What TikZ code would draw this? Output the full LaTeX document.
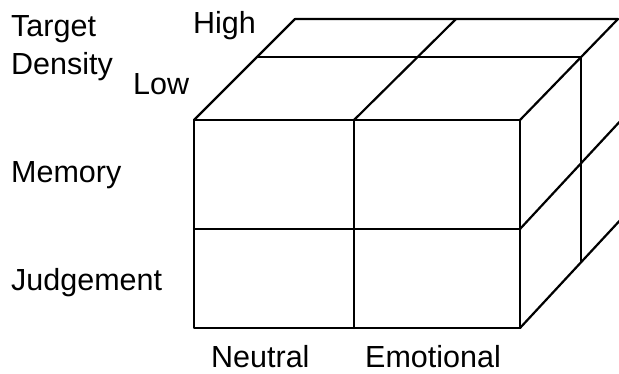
\documentclass[tikz,border=0pt]{standalone}
\usepackage{fontspec}
\setmainfont{Liberation Sans}
\usetikzlibrary{positioning,calc}

\begin{document}
\begin{tikzpicture}[
  x=1bp, y=-1bp,
  edge/.style={line width=2.2bp, line cap=round, line join=round},
  lab/.style={font=\fontsize{30.5bp}{34bp}\selectfont, inner sep=0pt, anchor=base west}
]
\clip (0,0) rectangle (619,373);
\useasboundingbox (0,0) rectangle (619,373);
% front face corners
\coordinate (fnw) at (194,120);
\coordinate (fn)  at (354,120);
\coordinate (fne) at (520,120);
\coordinate (fw)  at (194,229);
\coordinate (fe)  at (520,229);
\coordinate (fsw) at (194,328);
\coordinate (fs)  at (354,328);
\coordinate (fse) at (520,328);
% top face
\coordinate (mw)  at (257,57);
\coordinate (me)  at (581,57);
\coordinate (bw)  at (295,19);
\coordinate (bn)  at (456,19);
\coordinate (be)  at (618,19);
% right face
\coordinate (rme) at (624,117);
\coordinate (rse) at (624,216);
\coordinate (rsm) at (581,262);
% front
\draw[edge] (fnw) rectangle (fse);
\draw[edge] (fw) -- (fe);
\draw[edge] (fn) -- (fs);
% top
\draw[edge] (fnw) -- (bw) -- (be) -- (fne);
\draw[edge] (fn) -- (bn);
\draw[edge] (mw) -- (me);
% right
\draw[edge] (me) -- (rsm);
\draw[edge] (fe) -- (rme);
\draw[edge] (fse) -- (rse);
% labels
\node[lab] (target)  at (11,36)  {Target};
\node[lab] (density) at (11,74)  {Density};
\node[lab] (high)    at (193,33) {High};
\node[lab] (low)     at (133,94) {Low};
\node[lab] (memory)  at (11,182) {Memory};
\node[lab] (judge)   at (11,290) {Judgement};
\node[lab] (neutral) at (211,367) {Neutral};
\node[lab] (emo)     at (365,367) {Emotional};
\end{tikzpicture}
\end{document}
